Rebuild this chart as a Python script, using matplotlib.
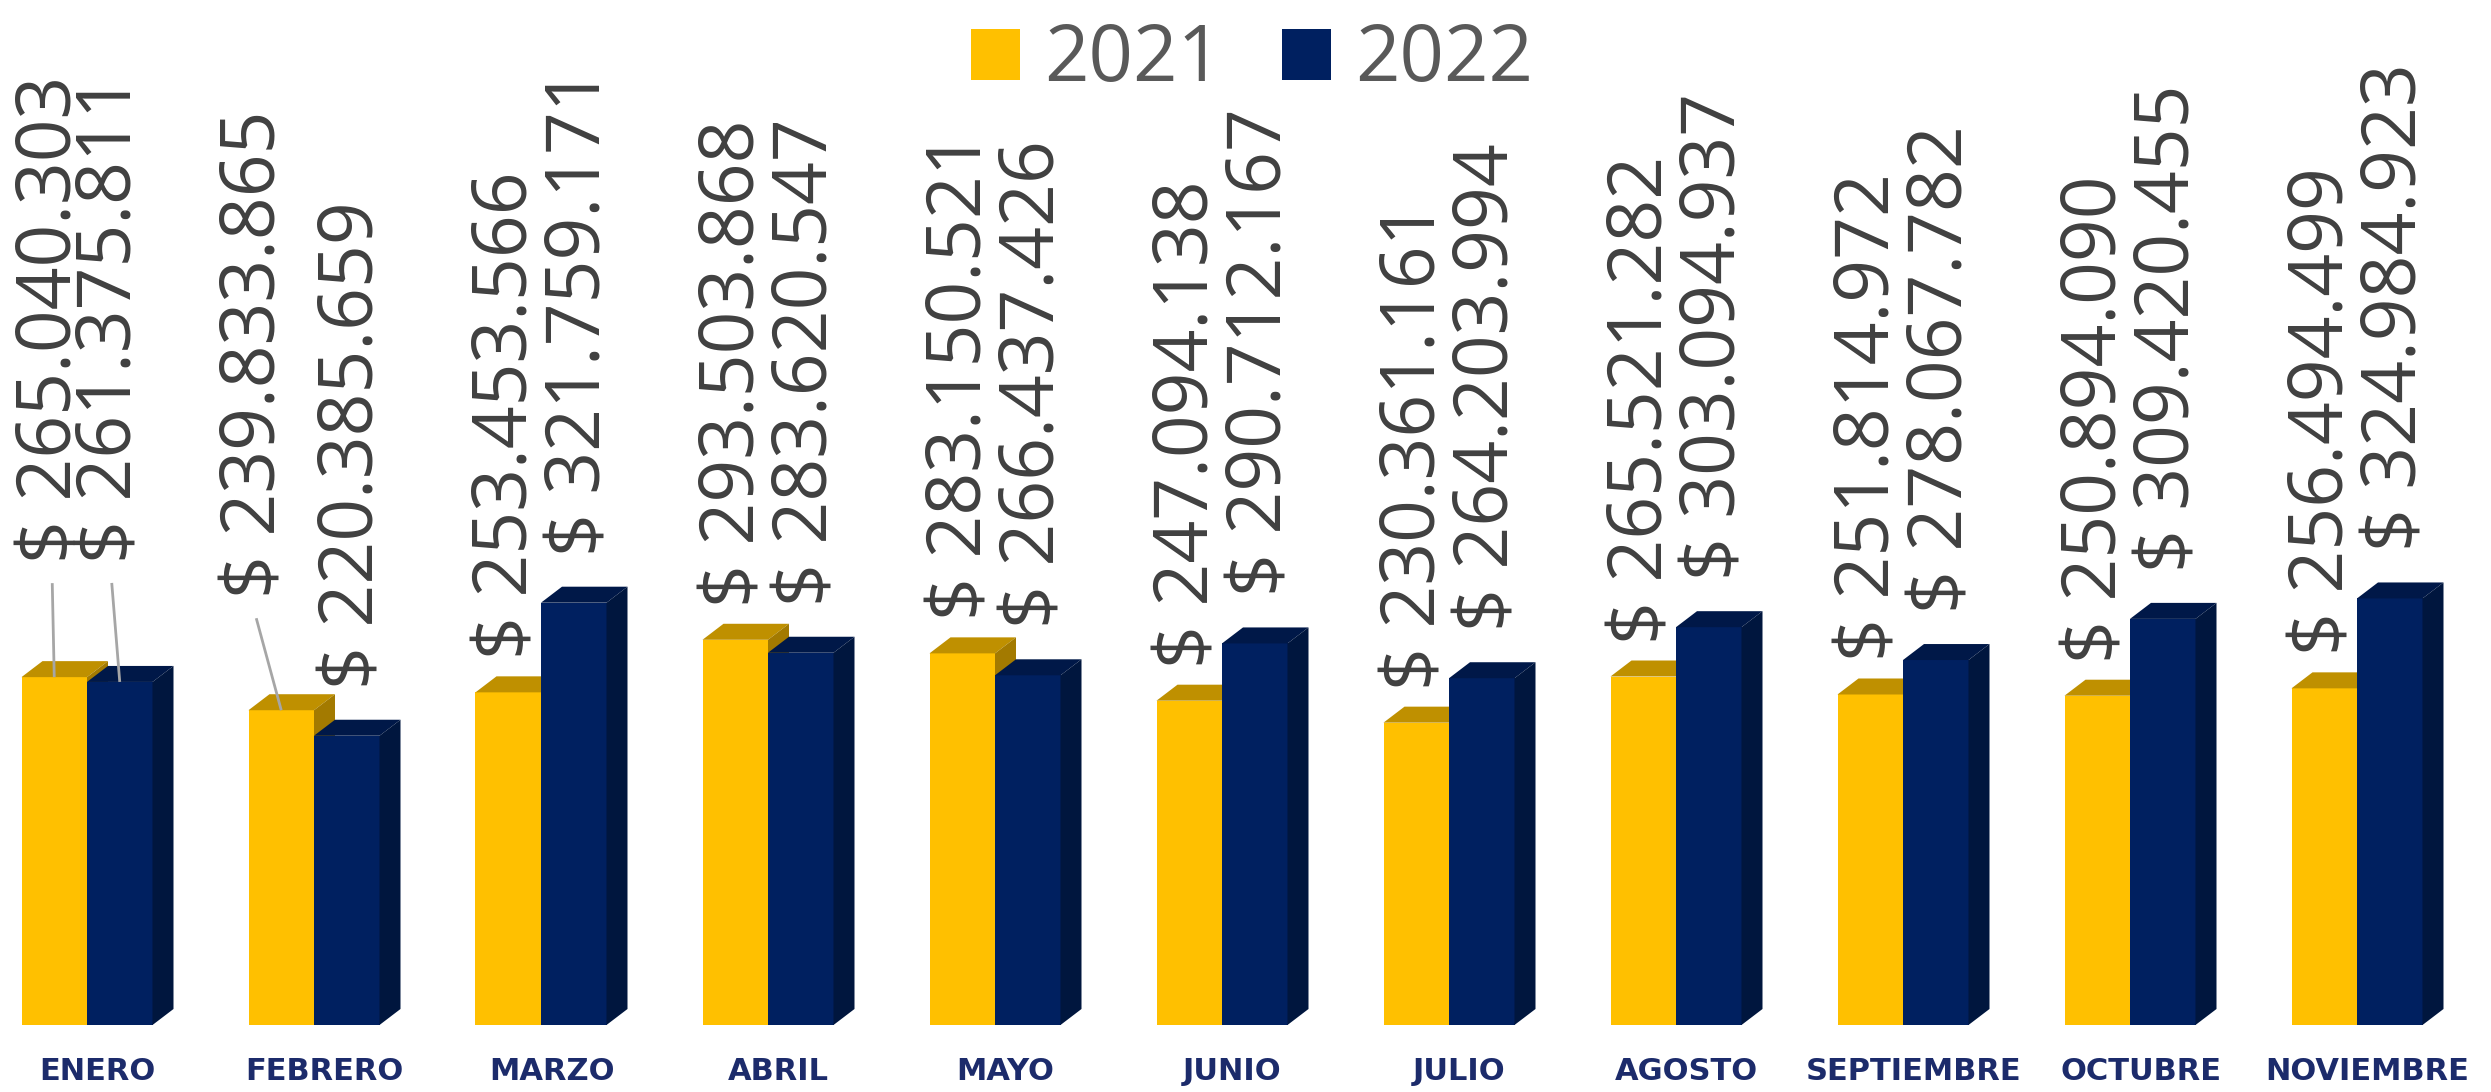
import numpy as np
import matplotlib.pyplot as plt
from matplotlib.patches import Polygon, Patch

#----データ----------------------------------------------------------
MESES=['ENERO','FEBRERO','MARZO','ABRIL','MAYO','JUNIO','JULIO',
       'AGOSTO','SEPTIEMBRE','OCTUBRE','NOVIEMBRE']
V2021=[265040303,239833865,253453566,293503868,283150521,247094138,
       230361161,265521282,251814972,250894090,256494499]
V2022=[261375811,220385659,321759171,283620547,266437426,290712167,
       264203994,303094937,278067782,309420455,324984923]
SERIES=['2021','2022']

#----描画設定--------------------------------------------------------
W_PX,H_PX=2491,1092
PX_X=227.0          # 1カテゴリあたりのピクセル
PX_Y=1.3125         # 百万あたりのピクセル
BASE=1025           # 0の位置(上からのピクセル)
BW=65.5/PX_X        # 棒の幅
DX=21/PX_X          # 奥行き(横)
DY=16/PX_Y          # 奥行き(縦)
COL={'2021':('#FFC000','#BF9000','#A37A00'),
     '2022':('#002060','#001848','#00163E')}
LABCOL='#404040'
FONT='Open Sans'

def fmt(v):
    return '$ '+format(v,',').replace(',','.')

fig=plt.figure(figsize=(W_PX/100,H_PX/100),dpi=100)
ax=fig.add_axes([0,0,1,1])
ax.set_xlim(-87/PX_X,(W_PX-87)/PX_X)
ax.set_ylim(-(H_PX-BASE)/PX_Y,BASE/PX_Y)
ax.axis('off')

x=np.arange(len(MESES))
# 手で動かしたラベル (系列,月): (横px, 上げpx)
MOVED={(0,0):(-2,81),(1,0):(-8,72),(0,1):(-25,79)}

for s,(name,vals) in enumerate(zip(SERIES,[V2021,V2022])):
    h=np.array(vals)/1e6
    left=x-BW if s==0 else x
    front,top,side=COL[name]
    ax.bar(left,h,width=BW,align='edge',color=front,lw=0,zorder=2+s*3)
    for i in range(len(x)):
        x0=left[i]; x1=x0+BW; t=h[i]
        ax.add_patch(Polygon([(x0,t),(x0+DX,t+DY),(x1+DX,t+DY),(x1,t)],
                             closed=True,color=top,lw=0,zorder=3+s*3))
        ax.add_patch(Polygon([(x1,0),(x1+DX,DY),(x1+DX,t+DY),(x1,t)],
                             closed=True,color=side,lw=0,zorder=4+s*3))
        cx=x0+BW/2
        if s==0:
            lx=cx; ly=t+33/PX_Y
        else:
            lx=cx+7/PX_X; ly=t+47/PX_Y
        if (s,i) in MOVED:
            mx,my=MOVED[(s,i)]
            lx=cx+mx/PX_X; ly=t+(33+my)/PX_Y if s==0 else t+(47+my)/PX_Y
            ax.plot([lx,cx],[ly-20/PX_Y,t],color='#A6A6A6',lw=2,zorder=10,
                    solid_capstyle='butt')
        ax.text(lx,ly,fmt(vals[i]),rotation=90,ha='center',va='bottom',
                fontsize=54,color=LABCOL,family=FONT,zorder=11)

for i,m in enumerate(MESES):
    ax.text(i+DX/2,-46/PX_Y,m,ha='center',va='center',fontsize=22,
            fontweight='bold',color='#1C2B6B',family='DejaVu Sans')

handles=[Patch(facecolor=COL[n][0],edgecolor='none',label=n) for n in SERIES]
leg=fig.legend(handles=handles,loc='upper center',ncol=2,frameon=False,
               bbox_to_anchor=(1252/W_PX,1.016),borderpad=0,
               handlelength=0.62,handleheight=0.63,handletextpad=0.31,
               columnspacing=0.78,prop={'family':FONT,'size':56})
for t in leg.get_texts():
    t.set_color('#595959')

plt.savefig('out.png',dpi=100)
plt.close()
